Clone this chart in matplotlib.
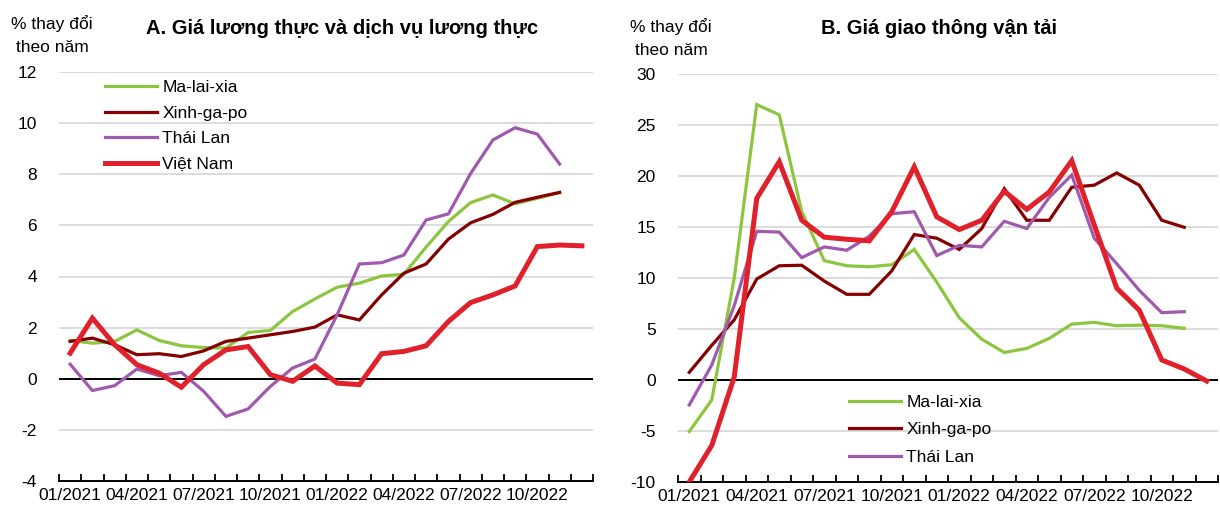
import matplotlib
matplotlib.use('Agg')
import matplotlib.pyplot as plt

plt.rcParams['font.family'] = ['Liberation Sans', 'DejaVu Sans']

MONTHS = ['01/2021', '02/2021', '03/2021', '04/2021', '05/2021', '06/2021',
          '07/2021', '08/2021', '09/2021', '10/2021', '11/2021', '12/2021',
          '01/2022', '02/2022', '03/2022', '04/2022', '05/2022', '06/2022',
          '07/2022', '08/2022', '09/2022', '10/2022', '11/2022', '12/2022']
TICK_LABELS = ['01/2021', '04/2021', '07/2021', '10/2021',
               '01/2022', '04/2022', '07/2022', '10/2022']

# Panel A - food prices (% y/y)
malaysia_a = [1.5, 1.39, 1.46, 1.91, 1.5, 1.29, 1.22, 1.2, 1.81, 1.89, 2.63, 3.12,
              3.58, 3.74, 4.02, 4.09, 5.15, 6.15, 6.89, 7.19, 6.84, 7.06, 7.28, None]
singapore_a = [1.46, 1.59, 1.33, 0.94, 0.98, 0.87, 1.09, 1.46, 1.59, 1.72, 1.85, 2.02,
               2.5, 2.3, 3.28, 4.13, 4.49, 5.46, 6.1, 6.43, 6.9, 7.1, 7.29, None]
thailand_a = [0.57, -0.46, -0.27, 0.38, 0.12, 0.25, -0.49, -1.47, -1.18, -0.3, 0.42, 0.77,
              2.5, 4.49, 4.54, 4.84, 6.21, 6.45, 8.03, 9.34, 9.82, 9.57, 8.4, None]
vietnam_a = [1.0, 2.37, 1.33, 0.55, 0.22, -0.33, 0.55, 1.13, 1.26, 0.16, -0.1, 0.5,
             -0.17, -0.23, 0.98, 1.07, 1.29, 2.24, 2.98, 3.28, 3.63, 5.17, 5.23, 5.2]

# Panel B - transport prices (% y/y)
malaysia_b = [-5.05, -1.96, 10.0, 27.0, 26.0, 16.5, 11.7, 11.2, 11.1, 11.3, 12.8, 9.6,
              6.1, 4.0, 2.7, 3.1, 4.08, 5.48, 5.65, 5.32, 5.38, 5.32, 5.06, None]
singapore_b = [0.75, 3.4, 5.9, 9.9, 11.2, 11.25, 9.7, 8.4, 8.4, 10.7, 14.26, 13.9,
               12.8, 14.85, 18.76, 15.66, 15.66, 18.9, 19.1, 20.3, 19.1, 15.66, 14.97, None]
thailand_b = [-2.45, 1.47, 7.3, 14.58, 14.5, 12.0, 13.05, 12.72, 14.1, 16.3, 16.5, 12.2,
              13.2, 13.05, 15.56, 14.85, 17.9, 20.1, 13.9, 11.4, 8.8, 6.6, 6.7, None]
vietnam_b = [-10.0, -6.42, 0.3, 17.8, 21.4, 15.66, 14.0, 13.8, 13.64, 16.5, 20.9, 16.0,
             14.75, 15.66, 18.5, 16.73, 18.43, 21.5, 15.2, 9.0, 6.85, 1.96, 1.08, -0.1]

GREEN = '#8cc63f'
DARKRED = '#850000'
PURPLE = '#a05aad'
RED = '#e0202a'
GRID = '#d9d9d9'
FS = 12.5

def style_axis(ax, yticks):
    n = len(MONTHS)
    ax.set_xlim(-0.5, n - 0.5)
    ax.set_ylim(yticks[0], yticks[-1])
    ax.set_yticks(yticks)
    ax.set_yticklabels([str(t) for t in yticks])
    for t in yticks[1:]:
        ax.axhline(t, color=GRID, lw=1.3, zorder=0)
    ax.axhline(0, color='black', lw=1.4, zorder=1)
    for s in ['left', 'right', 'top']:
        ax.spines[s].set_visible(False)
    ax.spines['bottom'].set_linewidth(1.4)
    ax.set_xticks([i - 0.5 for i in range(n + 1)])
    ax.set_xticklabels([])
    ax.set_xticks([MONTHS.index(m) for m in TICK_LABELS], minor=True)
    ax.set_xticklabels(TICK_LABELS, minor=True)
    ax.tick_params(axis='x', which='major', direction='in', length=5, width=1.3)
    ax.tick_params(axis='x', which='minor', length=0, pad=5, labelsize=FS)
    ax.tick_params(axis='y', length=0, pad=16, labelsize=FS)

def draw(ax, series):
    x = list(range(len(MONTHS)))
    lines = []
    for vals, color, lw, label in series:
        pts = [(i, v) for i, v in zip(x, vals) if v is not None]
        ln, = ax.plot([p[0] for p in pts], [p[1] for p in pts], color=color, lw=lw,
                      label=label, solid_joinstyle='miter', zorder=3)
        lines.append(ln)
    return lines

fig = plt.figure(figsize=(12.2, 5.09), dpi=100)
ax1 = fig.add_axes([59 / 1220, 1 - 481 / 509, 534 / 1220, 409 / 509])
ax2 = fig.add_axes([678 / 1220, 1 - 482 / 509, 540 / 1220, 408 / 509])

style_axis(ax1, [-4, -2, 0, 2, 4, 6, 8, 10, 12])
style_axis(ax2, [-10, -5, 0, 5, 10, 15, 20, 25, 30])

draw(ax1, [(malaysia_a, GREEN, 2.3, 'Ma-lai-xia'),
           (singapore_a, DARKRED, 2.3, 'Xinh-ga-po'),
           (thailand_a, PURPLE, 2.3, 'Thái Lan'),
           (vietnam_a, RED, 3.6, 'Việt Nam')])
lines_b = draw(ax2, [(malaysia_b, GREEN, 2.3, 'Ma-lai-xia'),
                     (singapore_b, DARKRED, 2.3, 'Xinh-ga-po'),
                     (thailand_b, PURPLE, 2.3, 'Thái Lan'),
                     (vietnam_b, RED, 3.6, 'Việt Nam')])

leg_kw = dict(frameon=False, fontsize=FS, handlelength=3.0, handletextpad=0.3,
              borderpad=0, borderaxespad=0, loc='upper left')
ax1.legend(bbox_to_anchor=(105 / 1220, 1 - 80 / 509), bbox_transform=fig.transFigure,
           labelspacing=0.6, **leg_kw)
ax2.legend(handles=lines_b[:3], bbox_to_anchor=(849 / 1220, 1 - 395 / 509),
           bbox_transform=fig.transFigure, labelspacing=0.7, **leg_kw)

fig.text(342 / 1220, 1 - 28 / 509, 'A. Giá lương thực và dịch vụ lương thực',
         ha='center', va='center', fontsize=14.5, fontweight='bold')
fig.text(939 / 1220, 1 - 28 / 509, 'B. Giá giao thông vận tải',
         ha='center', va='center', fontsize=14.5, fontweight='bold')
fig.text(52 / 1220, 1 - 35 / 509, '% thay đổi\ntheo năm', ha='center', va='center',
         fontsize=FS, linespacing=1.6)
fig.text(671 / 1220, 1 - 38 / 509, '% thay đổi\ntheo năm', ha='center', va='center',
         fontsize=FS, linespacing=1.6)

fig.savefig('out.png', dpi=100)
